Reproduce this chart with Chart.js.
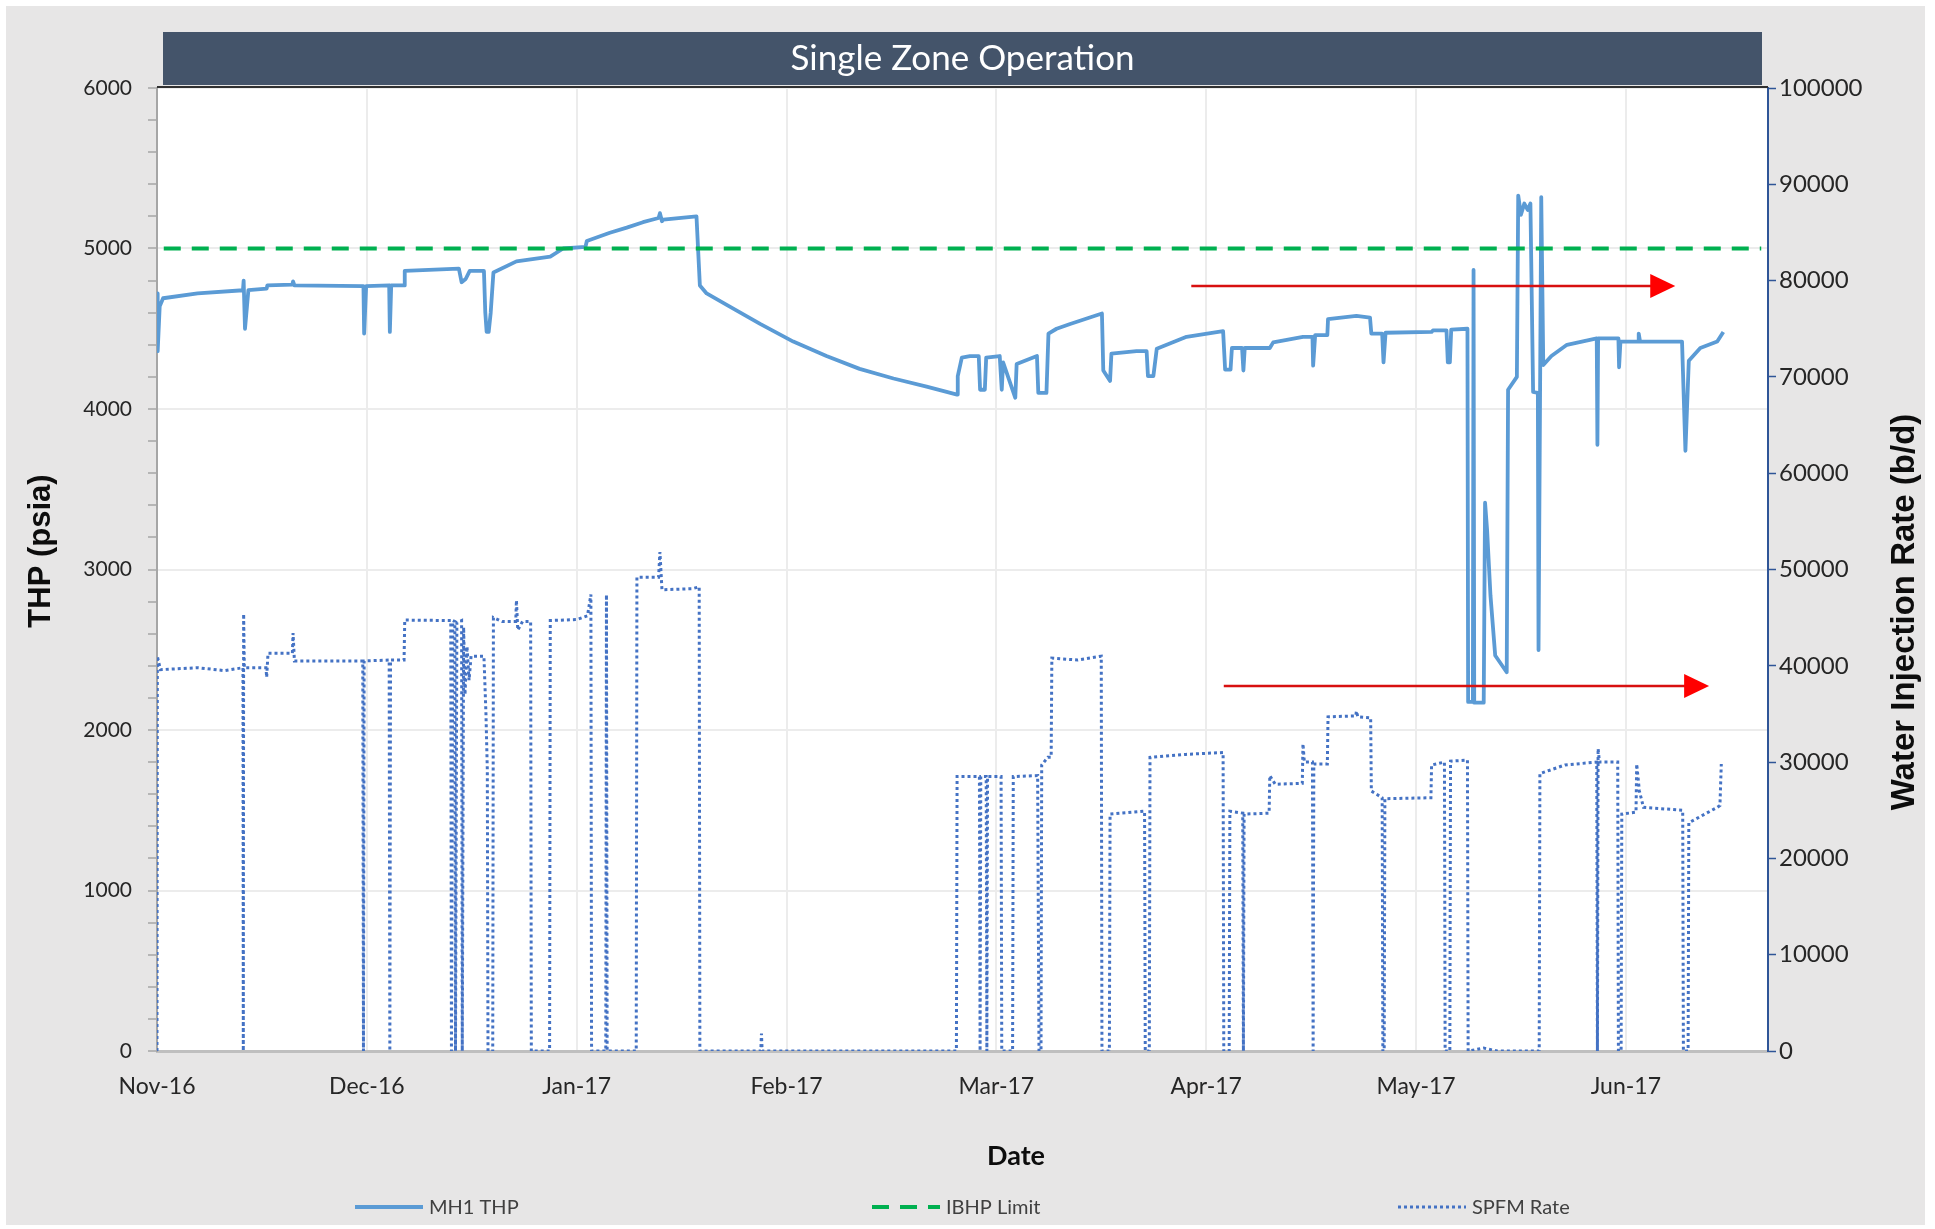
<!DOCTYPE html>
<html>
<head>
<meta charset="utf-8">
<title>Single Zone Operation</title>
<script src="https://cdn.jsdelivr.net/npm/chart.js@4.4.1/dist/chart.umd.min.js"></script>
<style>
  html, body { margin: 0; padding: 0; background: #fff; }
  canvas { display: block; }
</style>
</head>
<body>
<canvas id="myChart" width="1935" height="1229"></canvas>
<script>
// x values are days counted from 1 Nov 2016
const monthLabels = ["Nov-16", "Dec-16", "Jan-17", "Feb-17", "Mar-17", "Apr-17", "May-17", "Jun-17"];
const monthStep = 31;
const dayMax = 238;

// MH1 THP (psia), left axis
const thpDays = [
    0.0, 0.1, 0.4, 0.9, 6.0, 12.7, 12.8, 13.0, 13.5, 16.2, 16.3, 20.0, 20.1, 20.3,
    30.5, 30.6, 30.9, 34.3, 34.4, 34.6, 36.5, 36.6, 44.6, 45.0, 45.6, 46.2, 48.3, 48.5,
    48.7, 49.0, 49.3, 49.7, 53.1, 58.1, 60.0, 63.3, 63.5, 66.9, 69.4, 71.8, 74.1, 74.3,
    74.6, 74.8, 79.7, 80.2, 81.2, 84.1, 89.1, 94.0, 98.9, 103.8, 108.8, 113.7, 118.2, 118.3,
    118.9, 120.1, 121.4, 121.6, 122.3, 122.5, 124.5, 124.8, 125.0, 126.8, 127.0, 130.0, 130.2, 131.4,
    131.7, 132.9, 134.9, 139.6, 139.8, 140.8, 141.0, 144.7, 146.2, 146.4, 147.2, 147.7, 152.1, 157.5,
    157.8, 158.6, 158.8, 160.3, 160.5, 160.7, 164.4, 164.9, 169.3, 170.7, 170.8, 171.1, 172.9, 173.0,
    177.2, 179.2, 179.4, 181.0, 181.2, 181.5, 188.3, 188.5, 190.5, 190.7, 191.0, 191.2, 193.6, 193.7,
    194.4, 194.5, 194.6, 196.0, 196.2, 196.5, 197.0, 197.7, 199.4, 199.6, 200.9, 201.1, 201.5, 202.0,
    202.5, 202.9, 203.3, 204.0, 204.1, 204.5, 204.8, 206.0, 208.3, 212.7, 212.8, 212.9, 215.9, 216.0,
    216.2, 218.8, 218.9, 219.1, 225.3, 225.8, 226.3, 228.0, 230.5, 231.4
];
const thpPsi = [
    4720, 4360, 4640, 4690, 4720, 4740, 4800, 4500, 4740, 4750, 4770, 4775, 4795, 4770,
    4765, 4470, 4765, 4770, 4480, 4770, 4770, 4860, 4875, 4790, 4810, 4860, 4860, 4600,
    4480, 4480, 4600, 4850, 4920, 4950, 5000, 5010, 5047, 5098, 5130, 5164, 5190, 5220,
    5170, 5180, 5200, 4770, 4720, 4650, 4530, 4420, 4330, 4250, 4190, 4140, 4090, 4205,
    4320, 4330, 4330, 4120, 4120, 4320, 4330, 4120, 4290, 4070, 4280, 4330, 4100, 4100,
    4470, 4500, 4530, 4595, 4240, 4175, 4345, 4360, 4360, 4205, 4205, 4375, 4450, 4485,
    4245, 4245, 4380, 4380, 4240, 4380, 4380, 4415, 4450, 4450, 4270, 4460, 4460, 4560,
    4580, 4570, 4470, 4470, 4290, 4475, 4480, 4490, 4490, 4290, 4290, 4495, 4500, 2175,
    2175, 4866, 2170, 2170, 3416, 3245, 2838, 2464, 2360, 4120, 4200, 5330, 5210, 5280,
    5240, 5280, 4106, 4100, 2498, 5320, 4274, 4330, 4400, 4440, 3777, 4440, 4440, 4260,
    4420, 4420, 4470, 4420, 4420, 3740, 4300, 4380, 4420, 4480
];

// IBHP limit (psia)
const ibhpDays = [1, 237];
const ibhpPsi = [5000, 5000];

// SPFM rate (b/d), right axis
const rateDays = [
    0.0, 0.05, 0.5, 6.0, 10.0, 12.7, 12.75, 12.8, 12.9, 16.1, 16.2, 16.4, 20.0, 20.1,
    20.3, 30.4, 30.5, 30.6, 34.3, 34.4, 34.5, 36.5, 36.6, 43.4, 43.5, 43.7, 44.0, 44.1,
    44.3, 45.0, 45.1, 45.3, 45.5, 45.8, 46.1, 46.4, 48.3, 48.6, 48.8, 48.9, 49.6, 49.7,
    51.0, 53.0, 53.1, 53.3, 54.0, 55.2, 55.3, 58.0, 58.1, 62.0, 63.6, 64.1, 64.2, 66.3,
    66.4, 66.5, 70.8, 70.9, 74.1, 74.3, 74.6, 79.0, 80.1, 80.2, 89.2, 89.3, 89.4, 118.1,
    118.2, 121.5, 121.6, 121.7, 122.5, 122.6, 122.7, 124.7, 124.8, 126.4, 126.5, 130.1, 130.3, 130.6,
    130.7, 131.6, 132.1, 132.2, 136.0, 139.5, 139.6, 140.7, 140.8, 145.9, 146.0, 146.6, 146.7, 152.0,
    157.5, 157.6, 158.4, 158.5, 160.4, 160.5, 160.6, 164.3, 164.4, 165.2, 169.2, 169.3, 169.5, 170.7,
    170.8, 170.9, 172.9, 173.0, 177.1, 177.2, 177.4, 179.3, 179.4, 181.0, 181.1, 181.3, 181.4, 188.2,
    188.3, 190.2, 190.3, 191.0, 191.1, 193.6, 193.7, 196.0, 198.0, 204.2, 204.3, 208.0, 212.7, 212.8,
    212.9, 213.1, 215.8, 215.9, 216.3, 216.4, 218.5, 218.6, 219.0, 219.6, 225.4, 225.5, 226.2, 226.3,
    230.5, 230.9, 231.1
];
const rateBpd = [
    0, 41000, 39600, 39800, 39500, 39800, 0, 45400, 39800, 39800, 38800, 41300, 41300, 43400,
    40500, 40500, 0, 40500, 40600, 0, 40600, 40600, 44750, 44700, 0, 44700, 44600, 0,
    44500, 44700, 0, 44000, 37000, 42000, 38500, 41000, 41000, 35000, 29200, 0, 0, 45000,
    44600, 44600, 46800, 43700, 44600, 44600, 0, 0, 44700, 44800, 45200, 47400, 0, 0,
    47400, 0, 0, 49200, 49200, 51800, 47900, 48000, 48200, 0, 0, 1800, 0, 0,
    28500, 28500, 0, 28500, 28500, 0, 28500, 28500, 0, 0, 28500, 28600, 0, 0,
    29700, 30500, 30500, 40800, 40600, 41000, 0, 0, 24600, 24900, 0, 0, 30500, 30800,
    31000, 0, 0, 24900, 24700, 0, 24600, 24700, 28600, 27700, 27800, 31900, 30000, 30000,
    0, 29800, 29800, 34700, 34800, 35300, 34700, 34600, 27000, 26300, 0, 0, 26200, 26300,
    29700, 30000, 0, 0, 30100, 30200, 0, 300, 0, 0, 28800, 29700, 30000, 0,
    31400, 30000, 30000, 0, 0, 24600, 24800, 29800, 27000, 25300, 25000, 0, 0, 23700,
    25300, 25500, 29800
];

// red annotation arrows, in data units (day, psia)
const arrows = [
    { from: [152.8, 4766], to: [224.3, 4766] },
    { from: [157.6, 2274], to: [229.3, 2274] }
];

function toPoints(xs, ys) {
    return xs.map((x, i) => ({ x: x, y: ys[i] }));
}

// background, title bar, axis titles, arrows and legend
const decor = {
    id: "decor",
    beforeDraw(chart) {
        const { ctx, width, height, chartArea: a } = chart;
        ctx.save();
        ctx.fillStyle = "#ffffff";
        ctx.fillRect(0, 0, width, height);
        ctx.fillStyle = "#e7e6e6";
        ctx.fillRect(6, 6, width - 16, height - 10);
        ctx.fillStyle = "#ffffff";
        ctx.fillRect(a.left, a.top, a.right - a.left, a.bottom - a.top);
        ctx.restore();
    },
    afterDatasetsDraw(chart) {
        const { ctx } = chart;
        const xs = chart.scales.x, ys = chart.scales.y;
        ctx.save();
        for (const ar of arrows) {
            const x0 = xs.getPixelForValue(ar.from[0]);
            const x1 = xs.getPixelForValue(ar.to[0]);
            const y = ys.getPixelForValue(ar.from[1]);
            ctx.strokeStyle = "#d81010";
            ctx.lineWidth = 2.5;
            ctx.beginPath();
            ctx.moveTo(x0, y);
            ctx.lineTo(x1 - 20, y);
            ctx.stroke();
            ctx.fillStyle = "#ff0000";
            ctx.beginPath();
            ctx.moveTo(x1, y);
            ctx.lineTo(x1 - 25, y - 12);
            ctx.lineTo(x1 - 25, y + 12);
            ctx.closePath();
            ctx.fill();
        }
        ctx.restore();
    },
    afterDraw(chart) {
        const { ctx, chartArea: a } = chart;
        ctx.save();

        // top border of the plot
        ctx.strokeStyle = "#303030";
        ctx.lineWidth = 2;
        ctx.beginPath();
        ctx.moveTo(a.left, a.top - 1);
        ctx.lineTo(a.right, a.top - 1);
        ctx.stroke();

        // title bar
        ctx.fillStyle = "#44546a";
        ctx.fillRect(a.left + 6, 32, a.right - a.left - 12, 53);
        ctx.fillStyle = "#ffffff";
        ctx.font = "35px Lato";
        ctx.textAlign = "center";
        ctx.textBaseline = "middle";
        ctx.fillText("Single Zone Operation", (a.left + a.right) / 2, 59);

        // axis titles
        ctx.fillStyle = "#0d0d0d";
        ctx.font = "bold 31px 'Liberation Sans'";
        ctx.save();
        ctx.translate(41, 551);
        ctx.rotate(-Math.PI / 2);
        ctx.fillText("THP (psia)", 0, 0);
        ctx.restore();
        ctx.font = "bold 33px 'Liberation Sans'";
        ctx.save();
        ctx.translate(1905, 612);
        ctx.rotate(-Math.PI / 2);
        ctx.fillText("Water Injection Rate (b/d)", 0, 0);
        ctx.restore();
        ctx.font = "bold 27px Lato";
        ctx.fillText("Date", 1016, 1156);

        // legend
        const legendX = [355, 872, 1398];
        const order = ["MH1 THP", "IBHP Limit", "SPFM Rate"];
        const ly = 1207;
        ctx.font = "20px Lato";
        ctx.textAlign = "left";
        order.forEach((label, i) => {
            const ds = chart.data.datasets.find(d => d.label === label);
            ctx.strokeStyle = ds.borderColor;
            ctx.lineWidth = ds.borderWidth;
            ctx.setLineDash(ds.borderDash || []);
            ctx.beginPath();
            ctx.moveTo(legendX[i], ly);
            ctx.lineTo(legendX[i] + 68, ly);
            ctx.stroke();
            ctx.setLineDash([]);
            ctx.fillStyle = "#404040";
            ctx.fillText(label, legendX[i] + 74, ly + 1);
        });
        ctx.restore();
    }
};

Chart.defaults.font.family = "Lato";
Chart.defaults.color = "#262626";

const ctx = document.getElementById("myChart").getContext("2d");

const chart = new Chart(ctx, {
    type: "line",
    data: {
        datasets: [
            {
                label: "IBHP Limit",
                data: toPoints(ibhpDays, ibhpPsi),
                yAxisID: "y",
                borderColor: "#00b050",
                borderWidth: 4,
                borderDash: [17, 11],
                pointRadius: 0
            },
            {
                label: "MH1 THP",
                data: toPoints(thpDays, thpPsi),
                yAxisID: "y",
                borderColor: "#5b9bd5",
                borderWidth: 3.8,
                borderJoinStyle: "round",
                pointRadius: 0
            },
            {
                label: "SPFM Rate",
                data: toPoints(rateDays, rateBpd),
                yAxisID: "y1",
                borderColor: "#4472c4",
                borderWidth: 3,
                borderDash: [3, 3],
                pointRadius: 0
            }
        ]
    },
    options: {
        responsive: false,
        animation: false,
        devicePixelRatio: 1,
        parsing: false,
        layout: { padding: { top: 88, left: 0, right: 0, bottom: 0 } },
        plugins: {
            legend: { display: false },
            tooltip: { enabled: false },
            title: { display: false }
        },
        scales: {
            x: {
                type: "linear",
                min: 0,
                max: dayMax,
                afterFit: s => { s.height = 178; },
                grid: { color: "#ececec", lineWidth: 2, drawTicks: false },
                border: { color: "#bfbfbf", width: 3 },
                ticks: {
                    stepSize: monthStep,
                    includeBounds: false,
                    autoSkip: false,
                    maxRotation: 0,
                    padding: 22,
                    font: { size: 23 },
                    callback: v => monthLabels[Math.round(v / monthStep)] || ""
                }
            },
            y: {
                position: "left",
                min: 0,
                max: 6000,
                afterFit: s => { s.width = 157; },
                grid: {
                    color: c => (c.tick && c.tick.value % 1000 === 0) ? "#ececec" : "rgba(0,0,0,0)",
                    lineWidth: 2,
                    tickColor: "#a6a6a6",
                    tickLength: 9,
                    tickWidth: 1.5
                },
                border: { color: "#a6a6a6", width: 2 },
                ticks: {
                    stepSize: 200,
                    autoSkip: false,
                    padding: 16,
                    font: { size: 21 },
                    callback: v => (v % 1000 === 0 ? String(v) : "")
                }
            },
            y1: {
                position: "right",
                min: 0,
                max: 100000,
                afterFit: s => { s.width = 167; },
                grid: {
                    drawOnChartArea: false,
                    tickColor: "#2f5597",
                    tickLength: 8,
                    tickWidth: 1.5
                },
                border: { color: "#2f5597", width: 2 },
                ticks: {
                    stepSize: 10000,
                    autoSkip: false,
                    padding: 3,
                    font: { size: 24 },
                    callback: v => String(v)
                }
            }
        }
    },
    plugins: [decor]
});
</script>
</body>
</html>
